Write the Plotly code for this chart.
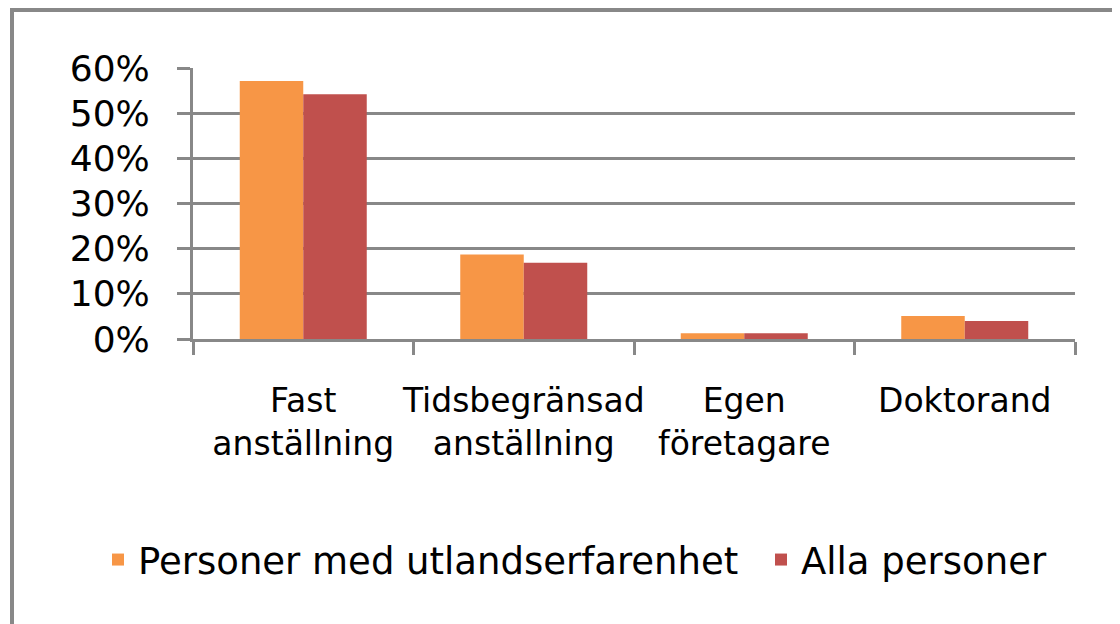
import plotly.graph_objects as go

categories = ["Fast<br>anställning", "Tidsbegränsad<br>anställning", "Egen<br>företagare", "Doktorand"]
series_names = ["Personer med utlandserfarenhet", "Alla personer"]
utland = [0.571, 0.187, 0.013, 0.051]
alla = [0.542, 0.169, 0.013, 0.040]
colors = ["#F79646", "#C0504D"]

W, H = 1120, 624
OFF = 8  # default page body margin
L, R, T, B = 193, 1075, 68, 339  # plot area in page pixels
GRID = "#888888"
FONT = "DejaVu Sans"

fig = go.Figure()
for i, (name, vals, col) in enumerate(zip(series_names, [utland, alla], colors)):
    fig.add_trace(go.Bar(x=categories, y=vals, name=name,
                         legend="legend" if i == 0 else "legend2",
                         marker=dict(color=col, line=dict(width=0))))

def px_to_paper_x(px):
    return (px - L) / (R - L)

def px_to_paper_y(py):
    return (B - py) / (B - T)

fig.add_shape(type="rect", xref="paper", yref="paper",
              x0=px_to_paper_x(12), x1=px_to_paper_x(1160),
              y0=px_to_paper_y(680), y1=px_to_paper_y(10),
              line=dict(color=GRID, width=4), fillcolor="rgba(0,0,0,0)", layer="below")

legend_common = dict(orientation="h", xref="container", yref="container",
                     xanchor="left", yanchor="middle", y=(H - (560 - OFF)) / H,
                     font=dict(family=FONT, size=37, color="black"),
                     bgcolor="rgba(0,0,0,0)", itemclick=False, borderwidth=0)

fig.update_layout(
    width=W, height=H,
    margin=dict(l=L - OFF, r=W - (R - OFF), t=T - OFF, b=H - (B - OFF), pad=0, autoexpand=False),
    paper_bgcolor="white", plot_bgcolor="white",
    barmode="group", bargap=0.424, bargroupgap=0,
    font=dict(family=FONT, color="black", size=33),
    showlegend=True,
    legend=dict(x=(98 - OFF) / W, **legend_common),
    legend2=dict(x=(761 - OFF) / W, **legend_common),
    xaxis=dict(showline=True, linecolor=GRID, linewidth=3, automargin=False, tickangle=0,
               ticks="outside", tickson="boundaries", ticklen=13, tickwidth=3, tickcolor=GRID,
               showgrid=False, tickfont=dict(family=FONT, size=33, color="black"),
               ticklabelstandoff=30),
    yaxis=dict(range=[0, 0.6], dtick=0.1, tickformat=".0%", automargin=False,
               showline=True, linecolor=GRID, linewidth=3,
               showgrid=True, gridcolor=GRID, gridwidth=3, zeroline=False,
               ticks="outside", ticklen=13, tickwidth=3, tickcolor=GRID,
               tickfont=dict(family=FONT, size=36, color="black"),
               ticklabelstandoff=20),
)

fig.write_html("out.html")
